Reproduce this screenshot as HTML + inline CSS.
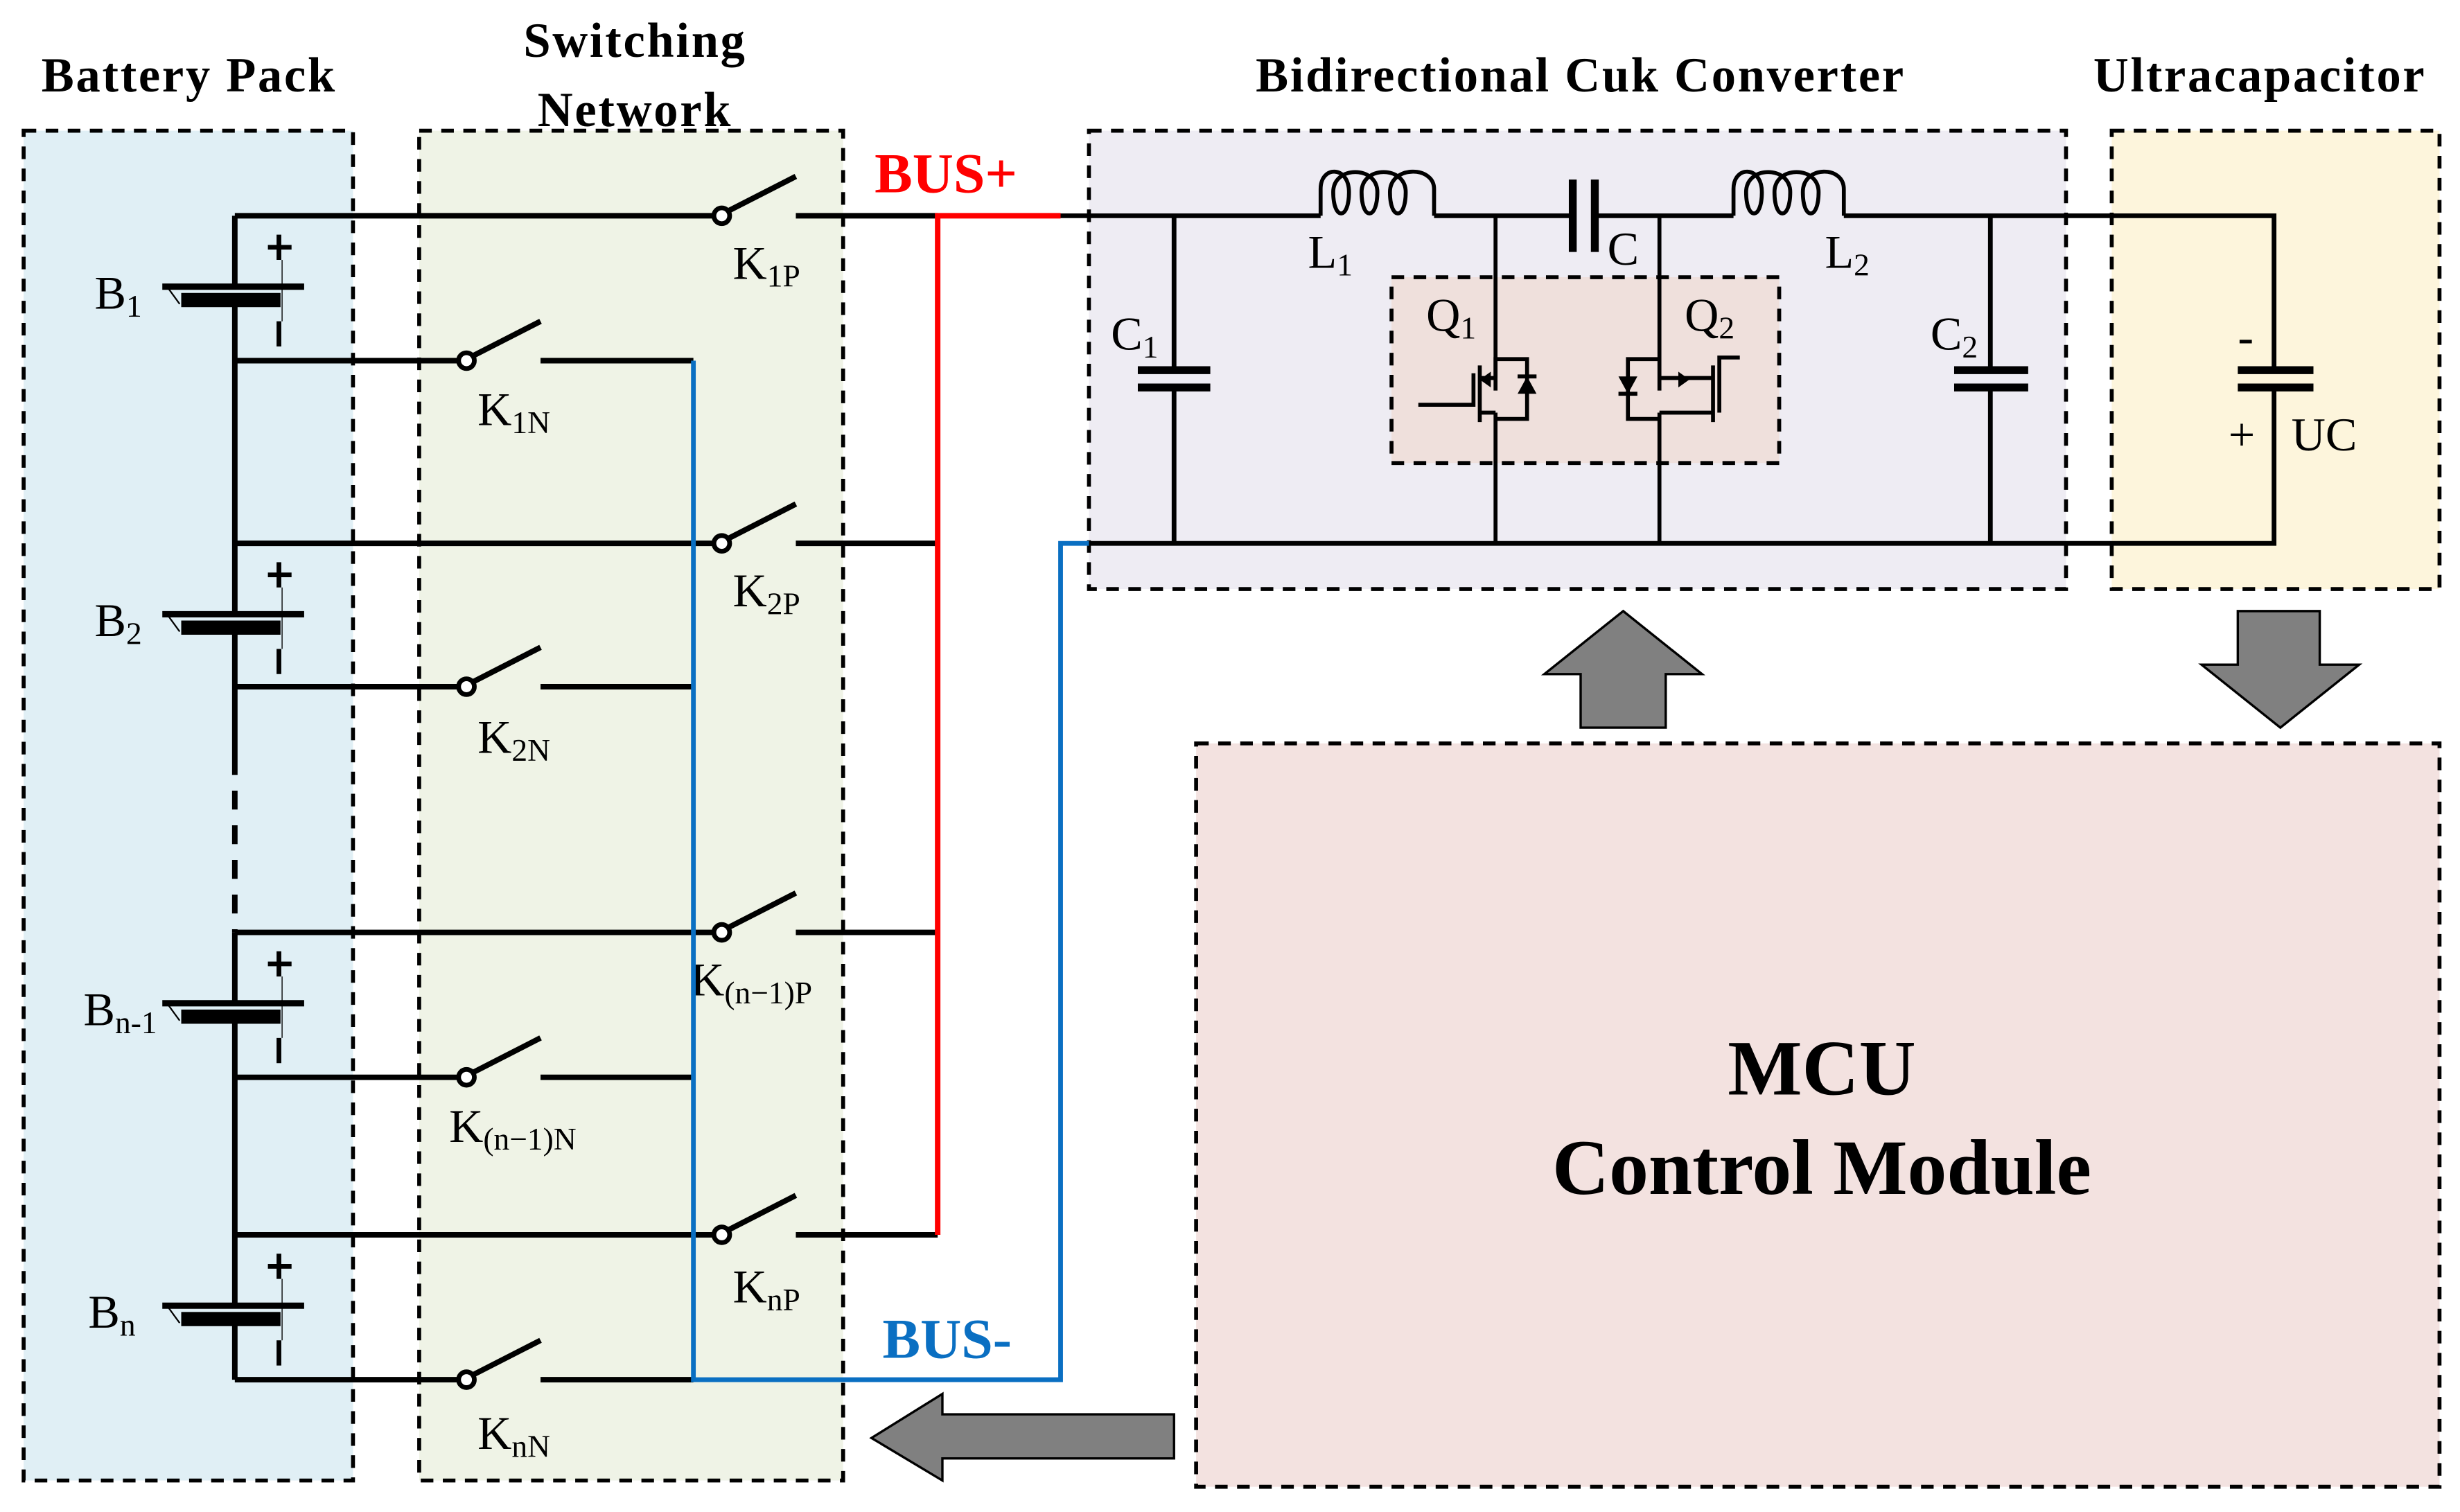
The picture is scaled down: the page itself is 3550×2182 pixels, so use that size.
<!DOCTYPE html>
<html><head><meta charset="utf-8"><style>html,body{margin:0;padding:0;background:#fff}svg{display:block}</style></head><body>
<svg width="3550" height="2182" viewBox="0 0 1561 960" preserveAspectRatio="none" xmlns="http://www.w3.org/2000/svg" font-family="'Liberation Serif',serif">
<rect width="1561" height="960" fill="#fff"/>
<g stroke="#000" stroke-width="2.5" stroke-dasharray="8,6">
<rect x="15" y="83" width="209" height="857" fill="#e0eff5"/>
<rect x="266" y="83" width="269" height="857" fill="#eff3e6"/>
<rect x="691" y="83" width="620" height="291" fill="#eeecf3"/>
<rect x="1340" y="83" width="208" height="291" fill="#fdf5dc"/>
<rect x="759" y="472" width="789" height="472" fill="#f3e2e0"/>
<rect x="883" y="176" width="246" height="118" fill="#efe0dc"/>
</g>
<g font-weight="bold" font-size="31" text-anchor="middle" fill="#000" letter-spacing="1.2">
<text x="120" y="58">Battery Pack</text>
<text x="403" y="36">Switching</text>
<text x="403" y="80">Network</text>
<text x="1003" y="58">Bidirectional Cuk Converter</text>
<text x="1434" y="58">Ultracapacitor</text>
</g>
<g font-weight="bold" text-anchor="middle" fill="#000">
<text x="1156" y="695" font-size="50">MCU</text>
<text x="1156" y="758" font-size="50">Control Module</text>
</g>
<text x="555" y="122" font-weight="bold" font-size="36" fill="#f00">BUS+</text>
<text x="560" y="862" font-weight="bold" font-size="36" fill="#0a6fc2">BUS-</text>
<g stroke="#000" stroke-width="3.5" fill="none">
<line x1="149" y1="137" x2="149" y2="182"/>
<line x1="149" y1="190" x2="149" y2="390"/>
<line x1="149" y1="398" x2="149" y2="480"/>
<line x1="149" y1="480" x2="149" y2="592" stroke-dasharray="12,10"/>
<line x1="149" y1="592" x2="149" y2="636"/>
<line x1="149" y1="645" x2="149" y2="828"/>
<line x1="149" y1="836" x2="149" y2="876"/>
</g>
<g id="bat">
<line x1="103" y1="182" x2="193" y2="182" stroke="#000" stroke-width="4"/>
<rect x="115" y="186" width="63" height="9" fill="#000"/>
<line x1="106" y1="182" x2="114" y2="193" stroke="#000" stroke-width="1"/>
<line x1="170" y1="157" x2="185" y2="157" stroke="#000" stroke-width="3"/>
<line x1="177" y1="149" x2="177" y2="165" stroke="#000" stroke-width="3"/>
<line x1="177" y1="204" x2="177" y2="220" stroke="#000" stroke-width="3"/>
<line x1="179" y1="165" x2="179" y2="204" stroke="#000" stroke-width="0.6"/>
</g>
<use href="#bat" transform="translate(0,208)"/>
<use href="#bat" transform="translate(0,455)"/>
<use href="#bat" transform="translate(0,647)"/>
<g font-size="30" fill="#000">
<text x="60" y="196">B<tspan font-size="20" dy="5">1</tspan></text>
<text x="60" y="404">B<tspan font-size="20" dy="5">2</tspan></text>
<text x="53" y="651">B<tspan font-size="20" dy="5">n-1</tspan></text>
<text x="56" y="843">B<tspan font-size="20" dy="5">n</tspan></text>
</g>
<g stroke="#000" stroke-width="3.5" fill="none">
<path d="M149 137H453M149 345H453M149 592H453M149 784H453"/>
<path d="M149 229H291M149 436H291M149 684H291M149 876H291"/>
<path d="M505 137H595M505 345H595M505 592H595M505 784H595"/>
<path d="M343 229H440M343 436H440M343 684H440M343 876H440"/>
<path d="M462 134L505 112M462 342L505 320M462 589L505 567M462 781L505 759"/>
<path d="M300 226L343 204M300 433L343 411M300 681L343 659M300 873L343 851"/>
</g>
<g stroke="#000" stroke-width="3" fill="#fff">
<circle cx="458" cy="137" r="5"/><circle cx="458" cy="345" r="5"/><circle cx="458" cy="592" r="5"/><circle cx="458" cy="784" r="5"/>
<circle cx="296" cy="229" r="5"/><circle cx="296" cy="436" r="5"/><circle cx="296" cy="684" r="5"/><circle cx="296" cy="876" r="5"/>
</g>
<g font-size="30" fill="#000">
<text x="465" y="177">K<tspan font-size="20" dy="5">1P</tspan></text>
<text x="303" y="270">K<tspan font-size="20" dy="5">1N</tspan></text>
<text x="465" y="385">K<tspan font-size="20" dy="5">2P</tspan></text>
<text x="303" y="478">K<tspan font-size="20" dy="5">2N</tspan></text>
<text x="438" y="632">K<tspan font-size="20" dy="5">(n−1)P</tspan></text>
<text x="285" y="725">K<tspan font-size="20" dy="5">(n−1)N</tspan></text>
<text x="465" y="827">K<tspan font-size="20" dy="5">nP</tspan></text>
<text x="303" y="920">K<tspan font-size="20" dy="5">nN</tspan></text>
</g>
<path d="M595 784V137H673" stroke="#f00" stroke-width="3.5" fill="none"/>
<path d="M440 229V876H673V345H691" stroke="#0a6fc2" stroke-width="3" fill="none"/>
<g stroke="#000" stroke-width="3" fill="none">
<path d="M673 137H838M910 137H997M1013 137H1100M1170 137H1443V235M1443 246V345H691"/>
<path d="M838 137V120C838 105 856 105 856 122C856 140 846 140 846 122C846 105 874 105 874 122C874 140 864 140 864 122C864 105 892 105 892 122C892 140 882 140 882 122C882 105 910 105 910 120V137" stroke-width="2.5"/>
<path d="M1100 137V120C1100 105 1118 105 1118 122C1118 140 1108 140 1108 122C1108 105 1136 105 1136 122C1136 140 1126 140 1126 122C1126 105 1154 105 1154 122C1154 140 1144 140 1144 122C1144 105 1170 105 1170 120V137" stroke-width="2.5"/>
<path d="M745 137V235M745 246V345M1263 137V235M1263 246V345"/>
<path d="M949 137V248M949 262V345M1053 137V248M1053 262V345" stroke-width="2.5"/>
</g>
<g stroke="#000" stroke-width="5">
<line x1="998" y1="114" x2="998" y2="160"/><line x1="1012" y1="114" x2="1012" y2="160"/>
<line x1="722" y1="235" x2="768" y2="235"/><line x1="722" y1="246" x2="768" y2="246"/>
<line x1="1240" y1="235" x2="1287" y2="235"/><line x1="1240" y1="246" x2="1287" y2="246"/>
<line x1="1420" y1="235" x2="1468" y2="235"/><line x1="1420" y1="246" x2="1468" y2="246"/>
</g>
<g stroke="#000" stroke-width="2.5" fill="none">
<path d="M900 257H935V237M939 232V268M939 240H949M939 262H949M949 240V228H969V266H949"/>
<path d="M963 239H975"/>
<path d="M1104 227H1091V262M1087 232V268M1087 240H1053M1087 262H1053M1053 228H1033V266H1053M1027 250H1039"/>
</g>
<polygon points="969,239 963,250 975,250" fill="#000"/>
<polygon points="939,241 946,236 946,246" fill="#000"/>
<polygon points="1033,250 1027,239 1039,239" fill="#000"/>
<polygon points="1072,241 1065,236 1065,246" fill="#000"/>
<g font-size="30" fill="#000">
<text x="830" y="170">L<tspan font-size="20" dy="5">1</tspan></text>
<text x="1020" y="168">C</text>
<text x="1158" y="170">L<tspan font-size="20" dy="5">2</tspan></text>
<text x="705" y="222">C<tspan font-size="20" dy="5">1</tspan></text>
<text x="1225" y="222">C<tspan font-size="20" dy="5">2</tspan></text>
<text x="905" y="210">Q<tspan font-size="20" dy="5">1</tspan></text>
<text x="1069" y="210">Q<tspan font-size="20" dy="5">2</tspan></text>
<text x="1420" y="224">-</text>
<text x="1414" y="286">+</text>
<text x="1454" y="286">UC</text>
</g>
<g fill="#808080" stroke="#000" stroke-width="1.5">
<polygon points="1030,388 1080,428 1057,428 1057,462 1003,462 1003,428 980,428"/>
<polygon points="1420,388 1472,388 1472,422 1497,422 1447,462 1397,422 1420,422"/>
<polygon points="553,913 598,885 598,898 745,898 745,926 598,926 598,940"/>
</g>
</svg>
</body></html>
